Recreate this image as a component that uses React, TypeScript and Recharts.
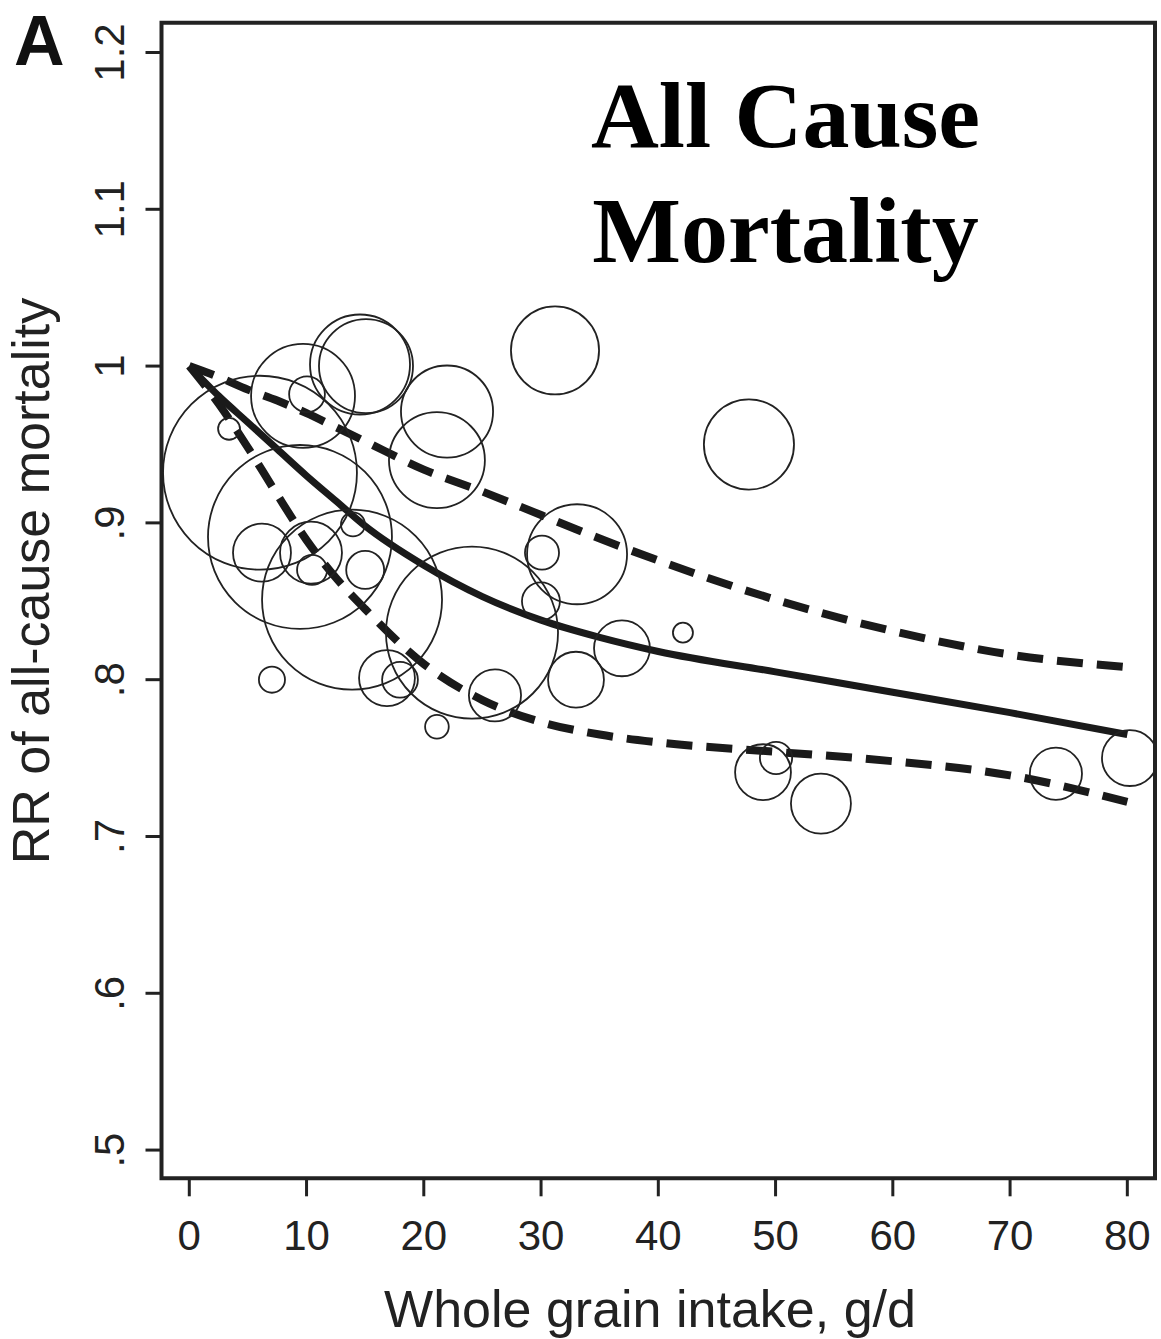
import React from 'react';
import { ComposedChart, Scatter, Line, XAxis, YAxis, ZAxis, ReferenceArea } from 'recharts';

// study points: intake (g/d), RR, and relative weight (bubble area)
const studyIntake = [14.56, 15.07, 9.7, 10.04, 6.03, 9.44, 6.2, 10.38, 10.47, 13.96, 15.0, 13.88, 24.11, 16.86, 17.97, 7.05, 26.07, 21.12, 21.98, 21.12, 31.19, 33.07, 30.08, 29.99, 32.98, 36.9, 3.39, 47.73, 42.1, 48.93, 50.04, 53.87, 73.91, 80.22];
const studyRR = [1.001, 1.0, 0.981, 0.982, 0.932, 0.891, 0.881, 0.881, 0.87, 0.899, 0.87, 0.851, 0.83, 0.801, 0.8, 0.8, 0.79, 0.77, 0.971, 0.94, 1.01, 0.88, 0.881, 0.85, 0.8, 0.82, 0.96, 0.95, 0.83, 0.741, 0.75, 0.721, 0.74, 0.75];
const studyWeight = [25, 22.1, 27, 3.2, 94, 84.6, 8.4, 9.6, 2.25, 1.44, 3.6, 81, 74, 7.8, 3.2, 1.7, 6.8, 1.4, 21.2, 23, 19.4, 25, 2.9, 3.6, 7.8, 7.8, 1.2, 20.3, 1.0, 7.8, 2.6, 9, 6.8, 7.8];

// dose-response curve and 95% CI
const curveX = [0, 2.5, 5, 7.5, 10, 12.5, 15, 20, 25, 30, 35, 40, 50, 60, 70, 80];
const curveRR = [1.0, 0.981, 0.964, 0.947, 0.93, 0.914, 0.898, 0.873, 0.853, 0.838, 0.827, 0.818, 0.805, 0.792, 0.779, 0.765];
const curveUpper = [1.0, 0.993, 0.985, 0.978, 0.97, 0.961, 0.952, 0.934, 0.92, 0.905, 0.89, 0.876, 0.851, 0.831, 0.816, 0.808];
const curveLower = [1.0, 0.976, 0.948, 0.918, 0.889, 0.865, 0.845, 0.81, 0.787, 0.773, 0.765, 0.76, 0.754, 0.748, 0.739, 0.722];

const xTicks = [0, 10, 20, 30, 40, 50, 60, 70, 80];
const yTicks = [0.5, 0.6, 0.7, 0.8, 0.9, 1.0, 1.1, 1.2];
const yTickLabels = ['.5', '.6', '.7', '.8', '.9', '1', '1.1', '1.2'];

const X_MIN = -2.37;
const X_MAX = 82.36;
const Y_MIN = 0.482;
const Y_MAX = 1.219;

const studies = studyIntake.map((x, i) => ({ x, y: studyRR[i], w: studyWeight[i] }));
const curve = curveX.map((x, i) => ({ x, rr: curveRR[i], hi: curveUpper[i], lo: curveLower[i] }));

const sans = '"Liberation Sans", Arial, sans-serif';
const ink = '#222';

const XTick = (props: any) => {
  const { x, y, payload } = props;
  return (
    <text x={x} y={y + 52} textAnchor="middle" fontFamily={sans} fontSize={42} fill={ink}>
      {payload.value}
    </text>
  );
};

const YTick = (props: any) => {
  const { x, y, payload } = props;
  const idx = yTicks.findIndex(t => Math.abs(t - payload.value) < 1e-6);
  return (
    <text transform={`translate(${x - 20},${y}) rotate(-90)`} textAnchor="middle" fontFamily={sans} fontSize={42} fill={ink}>
      {idx >= 0 ? yTickLabels[idx] : payload.value}
    </text>
  );
};

const App = () => {
  return (
    <div style={{ position: 'absolute', left: 0, top: 0, width: 1161, height: 1339, background: '#fff' }}>
      <ComposedChart width={1161} height={1339} margin={{ top: 22.7, right: 6, bottom: 0, left: 0 }}>
        <XAxis
          dataKey="x"
          type="number"
          domain={[X_MIN, X_MAX]}
          ticks={xTicks}
          allowDataOverflow
          axisLine={false}
          tickSize={18}
          tickLine={{ stroke: ink, strokeWidth: 3 }}
          tick={<XTick />}
          height={160.7}
        />
        <YAxis
          type="number"
          domain={[Y_MIN, Y_MAX]}
          ticks={yTicks}
          allowDataOverflow
          axisLine={false}
          tickSize={16}
          tickLine={{ stroke: ink, strokeWidth: 3 }}
          tick={<YTick />}
          width={161.5}
        />
        <ZAxis dataKey="w" type="number" domain={[0, 100]} range={[0, 31416]} />
        <ReferenceArea x1={X_MIN} x2={X_MAX} y1={Y_MIN} y2={Y_MAX} fill="none" fillOpacity={0} stroke={ink} strokeWidth={4} ifOverflow="visible" />
        <Scatter data={studies} dataKey="y" shape="circle" fill="none" stroke={ink} strokeWidth={1.8} isAnimationActive={false} />
        <Line data={curve} dataKey="hi" type="monotone" stroke="#1a1a1a" strokeWidth={8} strokeDasharray="26 14" dot={false} activeDot={false} isAnimationActive={false} />
        <Line data={curve} dataKey="lo" type="monotone" stroke="#1a1a1a" strokeWidth={8} strokeDasharray="26 14" dot={false} activeDot={false} isAnimationActive={false} />
        <Line data={curve} dataKey="rr" type="monotone" stroke="#1a1a1a" strokeWidth={7} dot={false} activeDot={false} isAnimationActive={false} />
      </ComposedChart>
      <svg width={1161} height={1339} style={{ position: 'absolute', left: 0, top: 0, pointerEvents: 'none' }}>
        <text x={14} y={65} fontFamily={sans} fontWeight="bold" fontSize={70} fill="#111">A</text>
        <text x={785.5} y={147} textAnchor="middle" fontFamily='"Liberation Serif", "Times New Roman", serif' fontWeight="bold" fontSize={94} fill="#000">All Cause</text>
        <text x={785.5} y={262} textAnchor="middle" fontFamily='"Liberation Serif", "Times New Roman", serif' fontWeight="bold" fontSize={94} fill="#000">Mortality</text>
        <text transform="translate(49,581) rotate(-90)" textAnchor="middle" fontFamily={sans} fontSize={52} fill={ink}>RR of all-cause mortality</text>
        <text x={650} y={1327} textAnchor="middle" fontFamily={sans} fontSize={52} fill={ink}>Whole grain intake, g/d</text>
      </svg>
    </div>
  );
};

export default App;
